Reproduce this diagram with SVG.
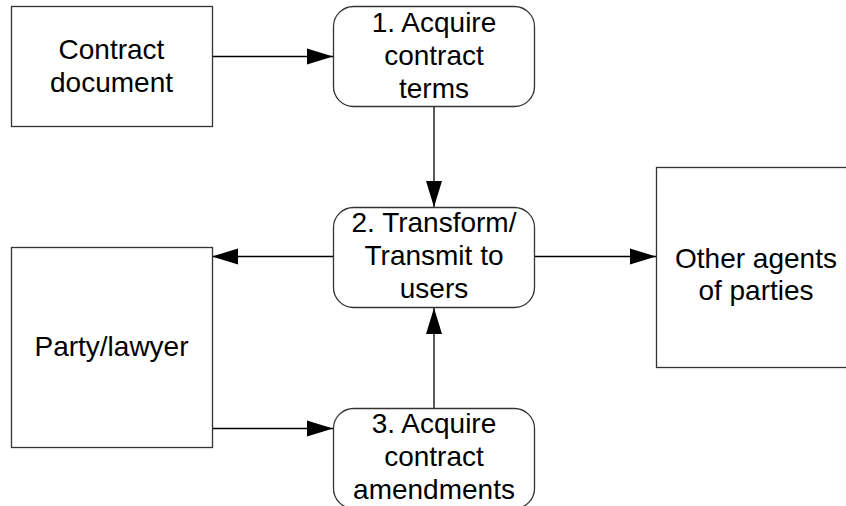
<svg xmlns="http://www.w3.org/2000/svg" width="846" height="506" viewBox="0 0 846 506">
  <style>
    .box { fill: #ffffff; stroke: #333333; stroke-width: 1.3; }
    .proc { fill: #ffffff; stroke: #333333; stroke-width: 1.3; }
    .lbl { font-family: "Liberation Sans", Arial, sans-serif; font-size: 28px; fill: #000000; text-anchor: middle; }
    .edge { fill: none; stroke: #000000; stroke-width: 1.3; marker-end: url(#arrow); }
  </style>
  <defs>
    <marker id="arrow" markerUnits="userSpaceOnUse" markerWidth="26" markerHeight="18" viewBox="0 0 26 18" refX="26" refY="9" orient="auto">
      <path d="M0,1 L26,9 L0,17 Z" fill="#000000"/>
    </marker>
  </defs>
  <rect width="846" height="506" fill="#ffffff"/>

  <g id="connectors">
    <path class="edge" d="M212,56.5 H333"/>
    <path class="edge" d="M434,107 V207"/>
    <path class="edge" d="M333,256.5 H212"/>
    <path class="edge" d="M535,256.5 H656"/>
    <path class="edge" d="M212,428.5 H333"/>
    <path class="edge" d="M434,408 V308"/>
  </g>

  <g id="contract-document">
    <rect class="box" x="11.5" y="6.5" width="201" height="120"/>
    <text class="lbl" x="111.5" y="59">Contract</text>
    <text class="lbl" x="111.5" y="92">document</text>
  </g>

  <g id="acquire-terms">
    <rect class="proc" x="333.5" y="6.5" width="201" height="100" rx="20" ry="20"/>
    <text class="lbl" x="434" y="32">1. Acquire</text>
    <text class="lbl" x="434" y="65">contract</text>
    <text class="lbl" x="434" y="98">terms</text>
  </g>

  <g id="transform-transmit">
    <rect class="proc" x="333.5" y="207.5" width="201" height="100" rx="20" ry="20"/>
    <text class="lbl" x="434" y="232">2. Transform/</text>
    <text class="lbl" x="434" y="265">Transmit to</text>
    <text class="lbl" x="434" y="298">users</text>
  </g>

  <g id="party-lawyer">
    <rect class="box" x="11.5" y="247.5" width="201" height="200"/>
    <text class="lbl" x="111.5" y="356">Party/lawyer</text>
  </g>

  <g id="other-agents">
    <rect class="box" x="656.5" y="167.5" width="201" height="200"/>
    <text class="lbl" x="756" y="268">Other agents</text>
    <text class="lbl" x="756" y="300">of parties</text>
  </g>

  <g id="acquire-amendments">
    <rect class="proc" x="333.5" y="408.5" width="201" height="100" rx="20" ry="20"/>
    <text class="lbl" x="434" y="433">3. Acquire</text>
    <text class="lbl" x="434" y="466">contract</text>
    <text class="lbl" x="434" y="499">amendments</text>
  </g>
</svg>
